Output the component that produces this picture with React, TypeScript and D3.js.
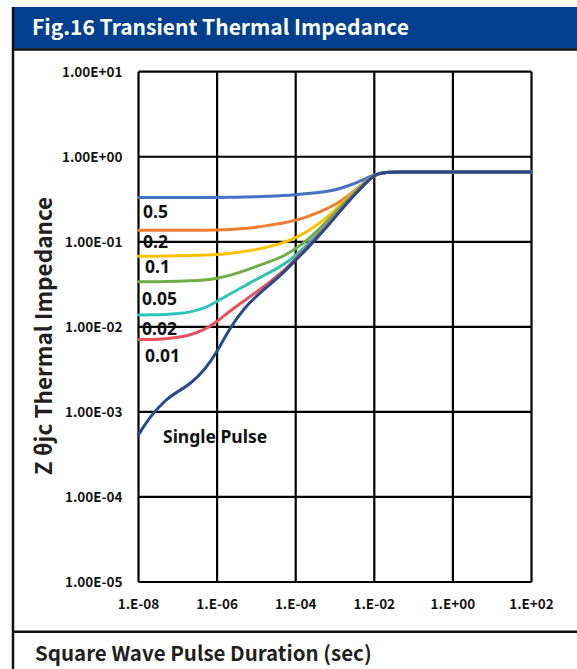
import React from "react";
import * as d3 from "d3";

const times = [1e-8, 2e-8, 5e-8, 1e-7, 2e-7, 5e-7, 1e-6, 2e-6, 5e-6, 1e-5, 2e-5, 5e-5, 1e-4, 2e-4, 5e-4, 1e-3, 2e-3, 5e-3, 1e-2, 1.6e-2, 2.5e-2, 5e-2, 0.1, 1, 10, 100];

const duty05 = [0.331, 0.331, 0.331, 0.331, 0.331, 0.331, 0.331, 0.333, 0.336, 0.339, 0.343, 0.35, 0.358, 0.368, 0.385, 0.407, 0.447, 0.531, 0.617, 0.646, 0.658, 0.66, 0.66, 0.66, 0.66, 0.66];
const duty02 = [0.137, 0.137, 0.137, 0.137, 0.137, 0.137, 0.137, 0.139, 0.143, 0.148, 0.156, 0.166, 0.179, 0.197, 0.232, 0.272, 0.335, 0.479, 0.617, 0.646, 0.658, 0.66, 0.66, 0.66, 0.66, 0.66];
const duty01 = [0.0676, 0.0676, 0.0678, 0.0684, 0.069, 0.07, 0.0708, 0.0724, 0.0767, 0.0813, 0.087, 0.0977, 0.111, 0.133, 0.176, 0.234, 0.324, 0.473, 0.617, 0.646, 0.658, 0.66, 0.66, 0.66, 0.66, 0.66];
const duty005 = [0.0339, 0.0339, 0.0341, 0.0343, 0.0347, 0.0355, 0.0372, 0.0398, 0.0457, 0.0513, 0.0575, 0.0676, 0.083, 0.105, 0.155, 0.219, 0.309, 0.468, 0.617, 0.646, 0.658, 0.66, 0.66, 0.66, 0.66, 0.66];
const duty002 = [0.0138, 0.0138, 0.014, 0.0143, 0.0148, 0.0166, 0.02, 0.024, 0.0302, 0.0363, 0.0427, 0.0537, 0.069, 0.0933, 0.141, 0.204, 0.295, 0.457, 0.617, 0.646, 0.658, 0.66, 0.66, 0.66, 0.66, 0.66];
const duty001 = [0.00708, 0.00708, 0.00724, 0.0075, 0.00794, 0.0093, 0.0115, 0.0151, 0.0204, 0.0257, 0.0324, 0.0457, 0.0638, 0.087, 0.138, 0.2, 0.292, 0.452, 0.617, 0.646, 0.658, 0.66, 0.66, 0.66, 0.66, 0.66];
const singlePulse = [0.00054, 0.00089, 0.00141, 0.00174, 0.00209, 0.00316, 0.0051, 0.0093, 0.0169, 0.0229, 0.0302, 0.0437, 0.061, 0.084, 0.133, 0.193, 0.285, 0.447, 0.617, 0.646, 0.658, 0.66, 0.66, 0.66, 0.66, 0.66];

const seriesNames = ["0.5", "0.2", "0.1", "0.05", "0.02", "0.01", "Single Pulse"];
const seriesColors = ["#4472C4", "#ED7D31", "#FFC000", "#70AD47", "#2EC4B6", "#E8505E", "#264A8C"];
const seriesValues = [duty05, duty02, duty01, duty005, duty002, duty001, singlePulse];
// label anchor points (time, impedance) for each series' label
const labelTimes = [1.3e-8, 1.3e-8, 1.46e-8, 1.23e-8, 1.23e-8, 1.46e-8, 4.2e-8];
const labelZ = [0.19, 0.0845, 0.043, 0.0181, 0.008, 0.00386, 0.00043];

const yTicks = [10, 1, 0.1, 0.01, 0.001, 0.0001, 0.00001];
const yTickLabels = ["1.00E+01", "1.00E+00", "1.00E-01", "1.00E-02", "1.00E-03", "1.00E-04", "1.00E-05"];
const xTicks = [1e-8, 1e-6, 1e-4, 1e-2, 1, 100];
const xTickLabels = ["1.E-08", "1.E-06", "1.E-04", "1.E-02", "1.E+00", "1.E+02"];

const title = "Fig.16 Transient Thermal Impedance";
const xTitle = "Square Wave Pulse Duration (sec)";
const yTitle = "Z θjc Thermal Impedance";

export default function App() {
  const W = 577;
  const H = 669;
  const x = d3.scaleLog().domain([1e-8, 1e2]).range([138.5, 531.5]);
  const y = d3.scaleLog().domain([1e-5, 10]).range([582, 71.7]);
  const line = d3
    .line<[number, number]>()
    .x((d) => x(d[0]))
    .y((d) => y(d[1]))
    .curve(d3.curveBasis);

  const cjk = "'Noto Sans CJK SC', 'Noto Sans', sans-serif";
  const sans = "'Noto Sans', 'Open Sans', sans-serif";

  return (
    <svg
      width={W}
      height={H}
      style={{ position: "absolute", left: 0, top: 0, background: "#fff" }}
    >
      <rect x={0} y={0} width={W} height={H} fill="#fff" />
      {/* title bar */}
      <rect x={13} y={7} width={W - 13} height={41.5} fill="#00408F" />
      <text x={32} y={35} fill="#fff" fontFamily={cjk} fontWeight={700} fontSize={21}>
        {title}
      </text>
      {/* frame lines */}
      <line x1={13} x2={13} y1={7} y2={H} stroke="#111" strokeWidth={2.5} />
      <line x1={13} x2={W} y1={49.5} y2={49.5} stroke="#111" strokeWidth={2.5} />
      <line x1={13} x2={W} y1={631.7} y2={631.7} stroke="#111" strokeWidth={2.5} />

      {/* grid */}
      {yTicks.map((t, i) => (
        <g key={"y" + i}>
          <line x1={x(1e-8)} x2={x(1e2)} y1={y(t)} y2={y(t)} stroke="#000" strokeWidth={2.2} />
          <text
            x={122.5}
            y={y(t) + 4.8}
            textAnchor="end"
            fontFamily={cjk}
            fontWeight={700}
            fontSize={13.5}
            fill="#111"
          >
            {yTickLabels[i]}
          </text>
        </g>
      ))}
      {xTicks.map((t, i) => (
        <g key={"x" + i}>
          <line x1={x(t)} x2={x(t)} y1={y(10)} y2={y(1e-5)} stroke="#000" strokeWidth={2.2} />
          <text
            x={x(t)}
            y={608.5}
            textAnchor="middle"
            fontFamily={cjk}
            fontWeight={700}
            fontSize={13.5}
            fill="#111"
          >
            {xTickLabels[i]}
          </text>
        </g>
      ))}

      {/* curves */}
      {seriesValues.map((vals, i) => (
        <path
          key={"s" + i}
          d={line(times.map((t, j) => [t, vals[j]] as [number, number])) || ""}
          fill="none"
          stroke={seriesColors[i]}
          strokeWidth={3}
          strokeLinecap="round"
        />
      ))}

      {/* series labels */}
      {seriesNames.map((n, i) => (
        <text
          key={"l" + i}
          x={x(labelTimes[i])}
          y={y(labelZ[i])}
          fontFamily={sans}
          fontWeight={700}
          fontSize={17.5}
          fill="#111"
        >
          {n}
        </text>
      ))}

      {/* axis titles */}
      <text
        transform={`translate(52, 336) rotate(-90)`}
        textAnchor="middle"
        fontFamily={cjk}
        fontWeight={700}
        fontSize={22.5}
        fill="#231F20"
      >
        {yTitle}
      </text>
      <text x={35} y={660.5} fontFamily={cjk} fontWeight={700} fontSize={20.5} fill="#231F20">
        {xTitle}
      </text>
    </svg>
  );
}
